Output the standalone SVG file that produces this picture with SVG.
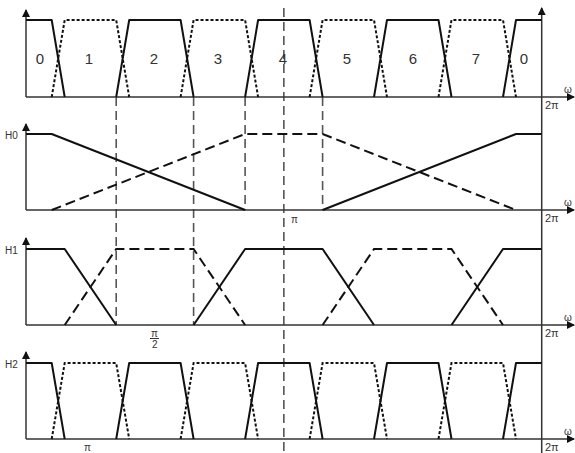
<svg xmlns="http://www.w3.org/2000/svg" width="575" height="453" viewBox="0 0 575 453">
<style>
.bg{fill:#fff}
.ax{stroke:#333;stroke-width:1.5;fill:none}
.sol{stroke:#111;stroke-width:2;fill:none;stroke-linejoin:round}
.dot{stroke:#111;stroke-width:2;fill:none;stroke-dasharray:3,2}
.dsh{stroke:#111;stroke-width:2;fill:none;stroke-dasharray:10,5}
.vd{stroke:#555;stroke-width:1.6;fill:none;stroke-dasharray:9,5}
.num{font-family:"Liberation Sans",Arial,sans-serif;font-size:15px;fill:#333;text-anchor:middle}
.lab{font-family:"Liberation Sans",Arial,sans-serif;font-size:10px;fill:#333}
.ax2{font-family:"Liberation Sans",Arial,sans-serif;font-size:11px;fill:#333}
</style>
<defs>
<marker id="ah" viewBox="0 0 8 8" refX="7" refY="4" markerWidth="8" markerHeight="8" markerUnits="userSpaceOnUse" orient="auto">
<path d="M0,0 L8,4 L0,8 Z" fill="#111"/>
</marker>
</defs>
<rect class="bg" x="0" y="0" width="575" height="453"/>

<g id="guides">
<line class="vd" x1="116.2" y1="97" x2="116.2" y2="325"/>
<line class="vd" x1="193.6" y1="97" x2="193.6" y2="325"/>
<line class="vd" x1="245.1" y1="97" x2="245.1" y2="210"/>
<line class="vd" x1="322.6" y1="97" x2="322.6" y2="210"/>
<line class="vd" x1="283.85" y1="8" x2="283.85" y2="453"/>
</g>

<g id="axes">
<line class="ax" x1="541.7" y1="453" x2="541.7" y2="8" marker-end="url(#ah)"/>
<line class="ax" x1="26" y1="97" x2="26" y2="10" marker-end="url(#ah)"/>
<line class="ax" x1="26" y1="97" x2="574" y2="97" marker-end="url(#ah)"/>
<line class="ax" x1="26" y1="210" x2="26" y2="124" marker-end="url(#ah)"/>
<line class="ax" x1="26" y1="210" x2="574" y2="210" marker-end="url(#ah)"/>
<line class="ax" x1="26" y1="325" x2="26" y2="238" marker-end="url(#ah)"/>
<line class="ax" x1="26" y1="325" x2="574" y2="325" marker-end="url(#ah)"/>
<line class="ax" x1="26" y1="439" x2="26" y2="352" marker-end="url(#ah)"/>
<line class="ax" x1="26" y1="439" x2="574" y2="439" marker-end="url(#ah)"/>
</g>

<g id="panel1">
<path class="sol" d="M26,20 H51.7 L64.7,97 M116.2,97 L129.2,20 H180.6 L193.6,97 M245.1,97 L258.1,20 H309.6 L322.6,97 M374,97 L387,20 H438.5 L451.5,97 M503,97 L516,20 H541.7"/>
<path class="dot" d="M51.7,97 L64.7,20 H116.2 L129.2,97 M180.6,97 L193.6,20 H245.1 L258.1,97 M309.6,97 L322.6,20 H374 L387,97 M438.5,97 L451.5,20 H503 L516,97"/>
<text class="num" x="40" y="64">0</text>
<text class="num" x="89" y="64">1</text>
<text class="num" x="154" y="64">2</text>
<text class="num" x="218" y="64">3</text>
<text class="num" x="283" y="64">4</text>
<text class="num" x="347" y="64">5</text>
<text class="num" x="413" y="64">6</text>
<text class="num" x="476" y="64">7</text>
<text class="num" x="524" y="64">0</text>
<text class="lab" x="564" y="93">ω</text>
<text class="ax2" x="545" y="109">2π</text>
</g>

<g id="panel2">
<path class="sol" d="M26,134 H51.7 L245.1,210 M322.6,210 L516,134 H541.7"/>
<path class="dsh" d="M51.7,210 L245.1,134 H322.6 L516,210"/>
<text class="lab" x="5" y="139">H0</text>
<text class="lab" x="291" y="223">π</text>
<text class="lab" x="564" y="206">ω</text>
<text class="ax2" x="545" y="222">2π</text>
</g>

<g id="panel3">
<path class="sol" d="M26,249 H64.7 L116.2,325 M193.6,325 L245.1,249 H322.6 L374,325 M451.5,325 L503,249 H541.7"/>
<path class="dsh" d="M64.7,325 L116.2,249 H193.6 L245.1,325 M322.6,325 L374,249 H451.5 L503,325"/>
<text class="lab" x="5" y="254">H1</text>
<text class="lab" x="151" y="337">π</text>
<line x1="150" y1="338.5" x2="159" y2="338.5" stroke="#333" stroke-width="1"/>
<text class="lab" x="152" y="348">2</text>
<text class="lab" x="564" y="321">ω</text>
<text class="ax2" x="545" y="337">2π</text>
</g>

<g id="panel4">
<path class="sol" d="M26,363 H51.7 L64.7,439 M116.2,439 L129.2,363 H180.6 L193.6,439 M245.1,439 L258.1,363 H309.6 L322.6,439 M374,439 L387,363 H438.5 L451.5,439 M503,439 L516,363 H541.7"/>
<path class="dot" d="M51.7,439 L64.7,363 H116.2 L129.2,439 M180.6,439 L193.6,363 H245.1 L258.1,439 M309.6,439 L322.6,363 H374 L387,439 M438.5,439 L451.5,363 H503 L516,439"/>
<text class="lab" x="5" y="368">H2</text>
<text class="lab" x="84" y="451">π</text>
<text class="lab" x="564" y="435">ω</text>
<text class="ax2" x="545" y="451">2π</text>
</g>
</svg>
